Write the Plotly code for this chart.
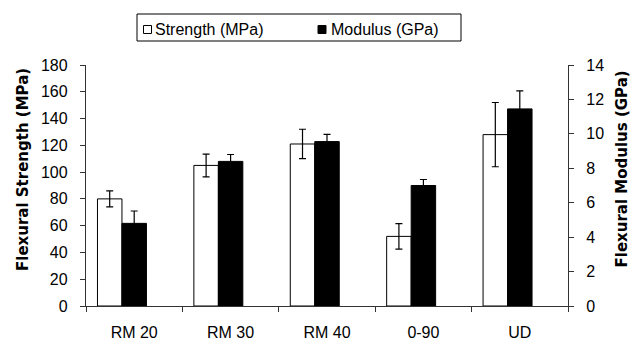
import plotly.graph_objects as go

categories = ["RM 20", "RM 30", "RM 40", "0-90", "UD"]
strength_mpa = [80, 105, 121, 52, 128]
strength_err = [6, 8.5, 11, 9.5, 24]
modulus_gpa = [4.8, 8.4, 9.55, 7.0, 11.45]
modulus_err = [0.72, 0.4, 0.42, 0.35, 1.05]
left_ticks = [0, 20, 40, 60, 80, 100, 120, 140, 160, 180]
right_ticks = [0, 2, 4, 6, 8, 10, 12, 14]
legend_labels = ["Strength (MPa)", "Modulus (GPa)"]

TICK_FONT = dict(family="Liberation Sans, Arial, sans-serif", size=16, color="#000000")
TITLE_FONT = dict(family="DejaVu Sans, sans-serif", size=15, color="#000000")
AX = "#333333"

W, H = 633, 342
ml, mr, mt, mb = 86, 65, 65, 36
pw = W - ml - mr
ph = H - mt - mb


def px_x(p):
    return (p - ml) / pw


def px_y(p):
    return (H - mb - p) / ph


fig = go.Figure()

bw = 0.254
fig.add_trace(go.Bar(
    x=categories, y=strength_mpa, width=bw, offset=-1.5 * bw, name=legend_labels[0],
    marker=dict(color="#ffffff", line=dict(color="#000000", width=1)),
    error_y=dict(type="data", array=strength_err, color="#000000", thickness=1.2, width=3.5),
    showlegend=False, hoverinfo="skip", yaxis="y",
))
fig.add_trace(go.Bar(
    x=categories, y=modulus_gpa, width=bw, offset=-0.5 * bw, name=legend_labels[1],
    marker=dict(color="#000000", line=dict(color="#000000", width=1)),
    error_y=dict(type="data", array=modulus_err, color="#000000", thickness=1.2, width=3.5),
    showlegend=False, hoverinfo="skip", yaxis="y2",
))

# Legend drawn manually (box, swatches, labels) so it does not push the margins
shapes = [
    dict(type="rect", xref="paper", yref="paper",
         x0=px_x(137), x1=px_x(461), y0=px_y(41), y1=px_y(14),
         line=dict(color="#000000", width=1), fillcolor="#ffffff", layer="above"),
    dict(type="rect", xref="paper", yref="paper",
         x0=px_x(143.5), x1=px_x(151.5), y0=px_y(33.5), y1=px_y(25.5),
         line=dict(color="#000000", width=1), fillcolor="#ffffff", layer="above"),
    dict(type="rect", xref="paper", yref="paper",
         x0=px_x(318), x1=px_x(326), y0=px_y(33.5), y1=px_y(25.5),
         line=dict(color="#000000", width=1), fillcolor="#000000", layer="above"),
]

annotations = [
    dict(text=legend_labels[0], xref="paper", yref="paper", x=px_x(153), y=px_y(29),
         xanchor="left", yanchor="middle", showarrow=False, font=TICK_FONT),
    dict(text=legend_labels[1], xref="paper", yref="paper", x=px_x(328.5), y=px_y(29),
         xanchor="left", yanchor="middle", showarrow=False, font=TICK_FONT),
    dict(text="<b>Flexural Strength (MPa)</b>", xref="paper", yref="paper",
         x=px_x(23), y=px_y(170), xanchor="center", yanchor="middle",
         textangle=-90, showarrow=False, font=TITLE_FONT),
    dict(text="<b>Flexural Modulus (GPa)</b>", xref="paper", yref="paper",
         x=px_x(621.5), y=px_y(169), xanchor="center", yanchor="middle",
         textangle=-90, showarrow=False, font=TITLE_FONT),
]

fig.update_layout(
    width=W, height=H,
    margin=dict(l=ml, r=mr, t=mt, b=mb, pad=0, autoexpand=False),
    paper_bgcolor="#ffffff", plot_bgcolor="#ffffff",
    barmode="overlay",
    showlegend=False,
    xaxis=dict(
        type="category", range=[-0.5, 4.5], showgrid=False, zeroline=False,
        showline=True, linecolor=AX, linewidth=1.3, automargin=False,
        ticks="outside", tickson="boundaries", ticklen=5, tickcolor=AX, tickwidth=1.3,
        tickfont=TICK_FONT, ticklabelstandoff=12, fixedrange=True,
    ),
    yaxis=dict(
        range=[0, 180], tickvals=left_ticks, showgrid=False, zeroline=False,
        showline=True, linecolor=AX, linewidth=1.3, automargin=False,
        ticks="outside", ticklen=5, tickcolor=AX, tickwidth=1.3,
        tickfont=TICK_FONT, ticklabelstandoff=9, fixedrange=True,
    ),
    yaxis2=dict(
        range=[0, 14], tickvals=right_ticks, overlaying="y", side="right",
        showgrid=False, zeroline=False, automargin=False,
        showline=True, linecolor=AX, linewidth=1.3,
        ticks="outside", ticklen=5, tickcolor=AX, tickwidth=1.3,
        tickfont=TICK_FONT, ticklabelstandoff=9, fixedrange=True,
    ),
    # inner half of the right axis "cross" tick marks
    yaxis3=dict(
        range=[0, 14], tickvals=right_ticks, overlaying="y", side="right",
        showgrid=False, zeroline=False, automargin=False, showline=False,
        ticks="inside", ticklen=4, tickcolor=AX, tickwidth=1.3,
        showticklabels=False, fixedrange=True,
    ),
    shapes=shapes,
    annotations=annotations,
)

fig.write_html(
    "out.html",
    config={"displayModeBar": False},
    post_script="document.body.style.margin='0';document.body.style.padding='0';",
)
